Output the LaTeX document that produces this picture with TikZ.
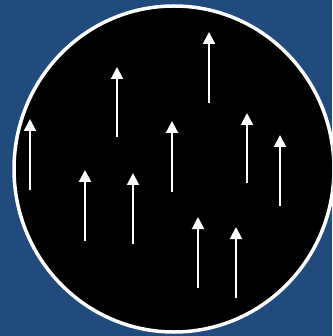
\documentclass[tikz,border=0pt]{standalone}
\usetikzlibrary{arrows.meta}
\definecolor{bgblue}{RGB}{33,74,125}
\tikzset{
  spinarrow/.style={draw=white, line width=2pt, -{Triangle[width=12pt,length=12pt]}, fill=white},
  dish/.style={draw=white, fill=black, line width=3.5pt}
}
\begin{document}
\begin{tikzpicture}[x=1pt,y=-1pt]
  \fill[bgblue] (0,0) rectangle (332,336);
  \useasboundingbox (0,0) rectangle (332,336);
  \begin{scope}
    \clip (0,0) rectangle (332,336);
    \draw[dish] (174,169) ellipse [x radius=160, y radius=163];
  \end{scope}
  % arrows: (x, bottom) -> (x, tip)
  \foreach \x/\b/\t in {30/190/119, 117/137/67, 209/103/32, 172/192/121, 247/183/113,
                        280/206/135, 85/241/170, 133/244/173, 198/288/217, 236/298/227}{
    \coordinate (b\x) at (\x,\b);
    \coordinate (t\x) at (\x,\t);
    \draw[spinarrow] (b\x) -- (t\x);
  }
\end{tikzpicture}
\end{document}
